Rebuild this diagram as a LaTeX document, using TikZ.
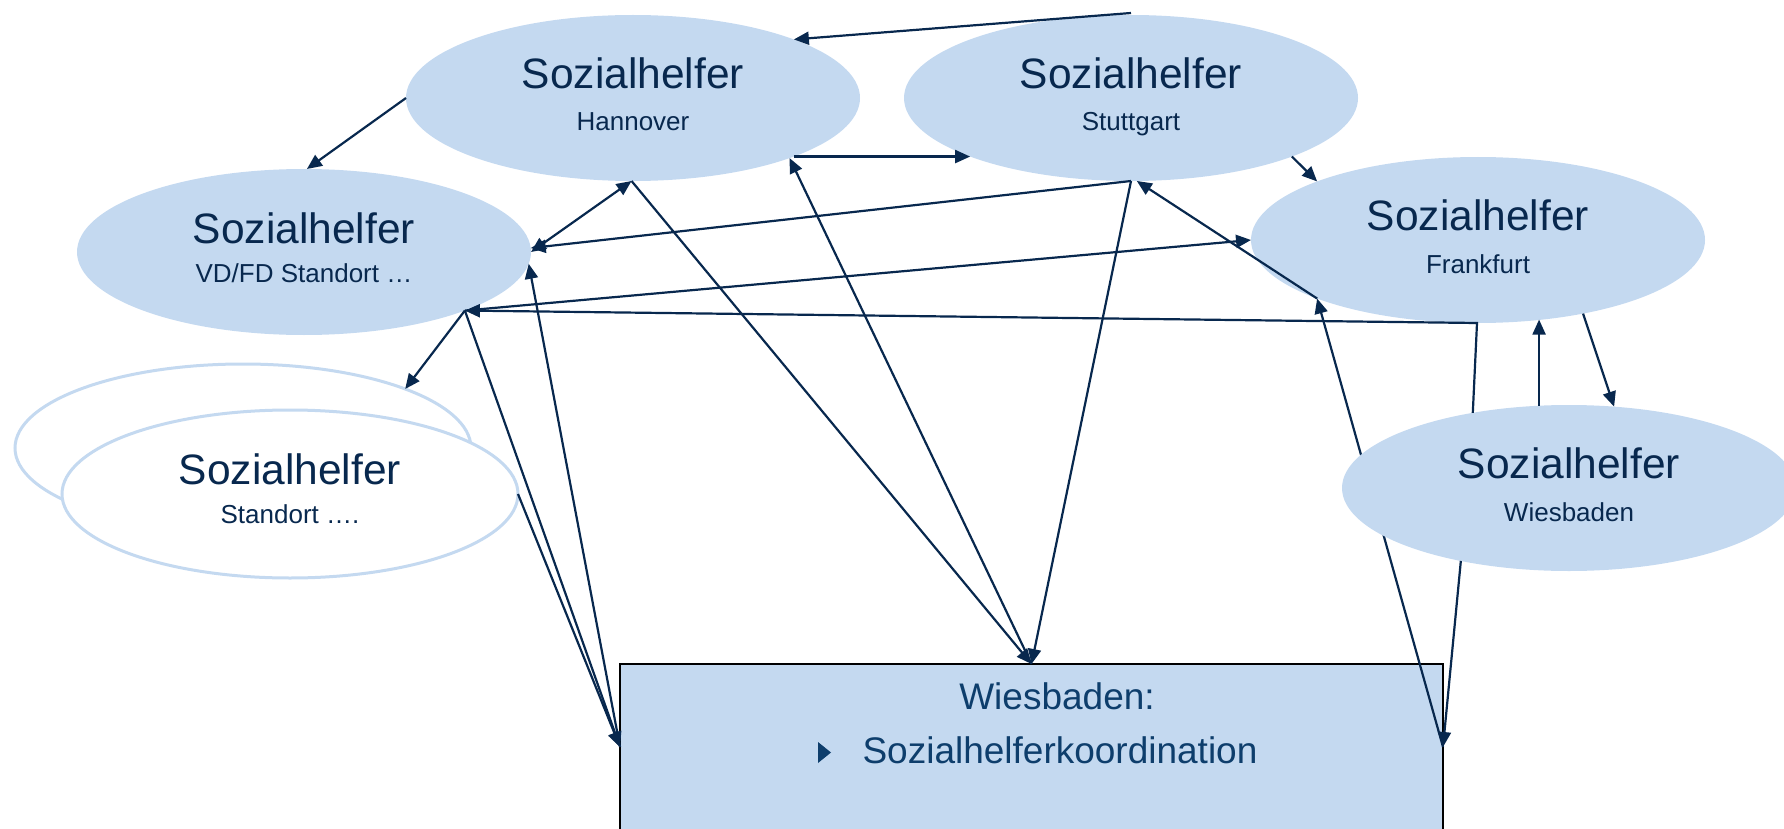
\documentclass[tikz,border=0pt]{standalone}
\usepackage{fontspec}
\setmainfont{Liberation Sans}
\usetikzlibrary{arrows.meta,calc,shapes.geometric}
\definecolor{ellfill}{RGB}{196,217,240}
\definecolor{navy}{RGB}{8,40,78}
\definecolor{boxtext}{RGB}{14,62,108}
\begin{document}
\begin{tikzpicture}[x=1pt,y=-1pt,
  >={Triangle[length=15pt,width=13pt]},
  ell/.style={ellipse, fill=ellfill, minimum width=454pt, minimum height=166pt, inner sep=0pt, outer sep=0pt},
  ellout/.style={ellipse, fill=white, draw=ellfill, line width=3pt, minimum width=456pt, minimum height=168pt, inner sep=0pt, outer sep=0pt},
  big/.style={font=\fontsize{42.5}{50}\selectfont, text=navy, anchor=base, inner sep=0pt},
  small/.style={font=\fontsize{26}{30}\selectfont, text=navy, anchor=base, inner sep=0pt},
  boxt/.style={font=\fontsize{37}{44}\selectfont, text=boxtext, anchor=base, inner sep=0pt},
  conn/.style={draw=navy, line width=2.2pt, ->},
  dconn/.style={draw=navy, line width=2.2pt, <->},
  plain/.style={draw=navy, line width=2.2pt}
]
\useasboundingbox (0,0) rectangle (1784,829);
\clip (0,0) rectangle (1784,829);

% ellipses and box
\node[ell] (han) at (633,98) {};
\node[ell] (stu) at (1131,98) {};
\node[ell] (vdfd) at (304,252) {};
\node[ell] (fra) at (1478,240) {};
\node[ellout] (stb) at (243,448) {};
\node[ellout] (stf) at (290,494) {};
\node[draw=black, fill=ellfill, line width=2pt, minimum width=823pt, minimum height=240pt,
      anchor=north west, inner sep=0pt, outer sep=0pt] (box) at (620,664) {};
\coordinate (boxL) at ([yshift=-83pt]box.north west);
\coordinate (boxR) at ([yshift=-83pt]box.north east);

% connector hidden behind the Wiesbaden ellipse
\draw[conn] (boxR) -- (fra.200);

\node[ell] (wie) at (1569,488) {};

% texts
\node[big] (hanT) at ([yshift=9pt]han.center) {Sozialhelfer};
\node[small] (hanS) at ([yshift=-33pt]han.center) {Hannover};
\node[big] (stuT) at ([yshift=9pt]stu.center) {Sozialhelfer};
\node[small] (stuS) at ([yshift=-33pt]stu.center) {Stuttgart};
\node[big] (vdfdT) at ([yshift=9pt]vdfd.center) {Sozialhelfer};
\node[small] (vdfdS) at ([yshift=-30pt]vdfd.center) {VD/FD Standort …};
\node[big] (fraT) at ([yshift=10pt]fra.center) {Sozialhelfer};
\node[small] (fraS) at ([yshift=-33pt]fra.center) {Frankfurt};
\node[big] (wieT) at ([yshift=10pt]wie.center) {Sozialhelfer};
\node[small] (wieS) at ([yshift=-33pt]wie.center) {Wiesbaden};
\node[big] (stfT) at ([yshift=10pt]stf.center) {Sozialhelfer};
\node[small] (stfS) at ([yshift=-29pt]stf.center) {Standort ….};

\node[boxt] (boxT1) at (1057,709) {Wiesbaden:};
\node[boxt] (boxT2) at (1060,763) {Sozialhelferkoordination};
\fill[boxtext] (818,742) -- (831,752.5) -- (818,763) -- cycle;

% connectors
\coordinate (topstart) at (1131,13);
\coordinate (bend) at (1477,323);
\draw[conn] (topstart) -- (han.20);
\draw[conn] (han.180) -- (vdfd.88);
\draw[conn] (han.-20) -- (stu.200);
\draw[dconn] (vdfd.0) -- (han.-91);
\draw[conn] (stu.-90) -- (vdfd.1);
\draw[conn] (vdfd.-20) -- (fra.180);
\draw[conn] (wie.142) -- (bend) -- (vdfd.-20);
\draw[conn] (stu.-90) -- (box.north);
\draw[conn] (han.-91) -- (box.north);
\draw[conn] (box.north) -- (han.-21);
\draw[conn] (fra.200) -- (stu.-86);
\draw[conn] (wie.214) -- (boxR);
\draw[conn] (stu.-20) -- (fra.160);
\draw[conn] (wie.110) -- (wie.110 |- fra.-51);
\draw[conn] (fra.-35) -- (wie.61);
\draw[conn] (vdfd.-20) -- (stb.20);
\draw[conn] (vdfd.-20) -- (boxL);
\draw[conn] (boxL) -- (vdfd.-3);
\draw[conn] (stf.0) -- (boxL);
\end{tikzpicture}
\end{document}
